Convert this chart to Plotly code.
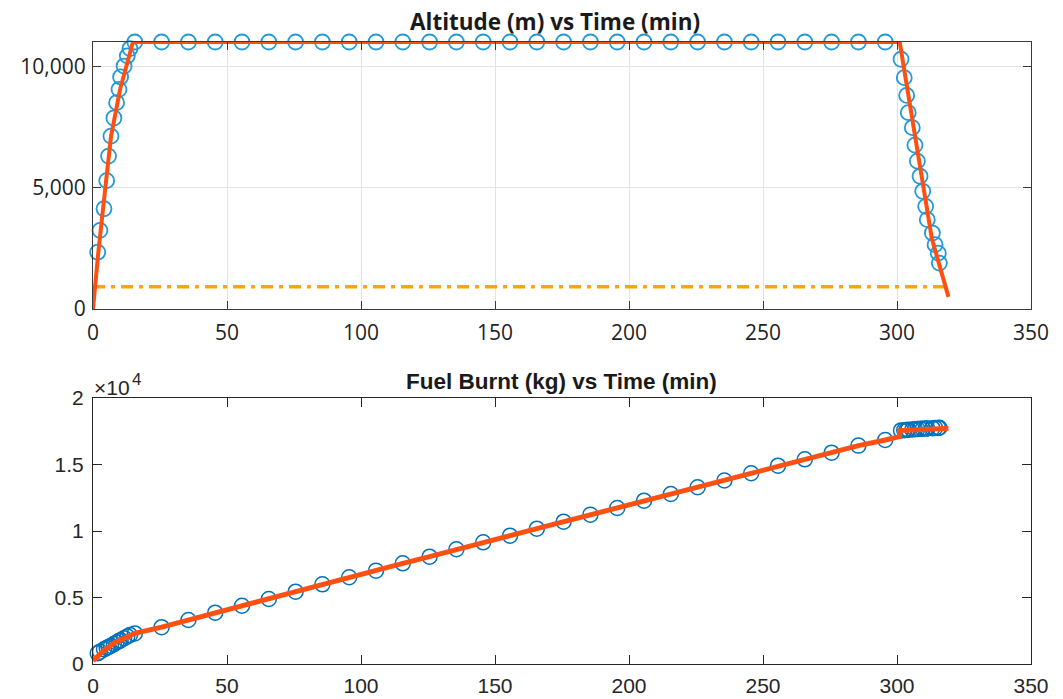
import plotly.graph_objects as go

# ---------------- altitude profile ----------------
alt_climb_t = [1.75, 2.6, 4.1, 5.1, 5.8, 6.7, 7.8, 8.8, 9.7, 10.3, 11.6, 12.8, 13.8]
alt_climb = [2340, 3240, 4130, 5290, 6300, 7120, 7870, 8500, 9050, 9560, 10010, 10430, 10730]

cruise_t = [15.6, 25.6, 35.6, 45.6, 55.6, 65.6, 75.6, 85.6, 95.6, 105.6, 115.6, 125.6,
            135.6, 145.6, 155.6, 165.6, 175.6, 185.6, 195.6, 205.6, 215.6, 225.6,
            235.6, 245.6, 255.6, 265.6, 275.6, 285.6, 295.6]
cruise_alt = [11000, 11000, 11000, 11000, 11000, 11000, 11000, 11000, 11000, 11000,
              11000, 11000, 11000, 11000, 11000, 11000, 11000, 11000, 11000, 11000,
              11000, 11000, 11000, 11000, 11000, 11000, 11000, 11000, 11000]

descent_t = [301.5, 302.7, 303.6, 304.2, 305.7, 306.7, 307.6, 308.6, 309.6, 310.7,
             311.3, 313.2, 314.2, 315.4, 315.8]
descent_alt = [10290, 9530, 8800, 8090, 7470, 6750, 6090, 5470, 4850, 4230,
               3680, 3130, 2650, 2300, 1890]

# modelled altitude profile
alt_model_t = [0, 2, 4.9, 6.7, 10.1, 14.9, 301, 313, 319.2]
alt_model = [0, 2350, 5300, 7100, 9050, 11000, 11000, 2900, 500]

# reference altitude level
ref_t = [0, 319.2]
ref_alt = [914, 914]

# ---------------- fuel burnt ----------------
fuel_climb = [800, 930, 1100, 1200, 1280, 1380, 1500, 1620, 1720, 1790, 1940, 2070, 2180]
fuel_cruise = [2300, 2770, 3310, 3860, 4380, 4890, 5440, 5990, 6520, 7020, 7570, 8070,
               8625, 9150, 9650, 10175, 10700, 11230, 11730, 12280, 12780, 13290,
               13800, 14340, 14910, 15390, 15890, 16420, 16845]
fuel_descent = [17560, 17580, 17600, 17610, 17630, 17650, 17660, 17680, 17690, 17700,
                17710, 17730, 17740, 17750, 17760]

# modelled fuel burn
fuel_model_t = [0, 1.5, 4, 8, 12, 15.6] + cruise_t[1:] + [300.9, 301.0, 319.2]
fuel_model = [250, 550, 1000, 1600, 2000, 2300] + fuel_cruise[1:] + [17100, 17550, 17720]

x_ticks = [0, 50, 100, 150, 200, 250, 300, 350]

BLUE_TOP = "#2199DA"
BLUE_BOT = "#0072BD"
RED = "#FF5012"
ORANGE = "#FFA500"

fig = go.Figure()

# top panel
fig.add_trace(go.Scatter(
    x=alt_climb_t + cruise_t + descent_t, y=alt_climb + cruise_alt + descent_alt,
    mode="markers", cliponaxis=False,
    marker=dict(symbol="circle-open", size=15, color=BLUE_TOP, line=dict(width=1.8)),
    xaxis="x", yaxis="y", showlegend=False))
fig.add_trace(go.Scatter(
    x=ref_t, y=ref_alt, mode="lines",
    line=dict(color=ORANGE, width=3.5, dash="12px,6px,4px,6px"),
    xaxis="x", yaxis="y", showlegend=False))
fig.add_trace(go.Scatter(
    x=alt_model_t, y=alt_model, mode="lines",
    line=dict(color=RED, width=4),
    xaxis="x", yaxis="y", showlegend=False))

# bottom panel
fig.add_trace(go.Scatter(
    x=alt_climb_t + cruise_t + descent_t, y=fuel_climb + fuel_cruise + fuel_descent,
    mode="markers", cliponaxis=False,
    marker=dict(symbol="circle-open", size=15, color=BLUE_BOT, line=dict(width=1.5)),
    xaxis="x2", yaxis="y2", showlegend=False))
fig.add_trace(go.Scatter(
    x=fuel_model_t, y=fuel_model, mode="lines",
    line=dict(color=RED, width=5),
    xaxis="x2", yaxis="y2", showlegend=False))

W, H = 1063, 699
x_dom = [93 / W, 1031 / W]
top_dom = [1 - 309 / H, 1 - 42 / H]
bot_dom = [1 - 664 / H, 1 - 398 / H]

top_font = dict(family="Open Sans", size=21, color="#1F1F1F")
bot_font = dict(family="Liberation Sans", size=21, color="#262626")

fig.update_layout(
    width=W, height=H,
    margin=dict(l=0, r=0, t=0, b=0),
    paper_bgcolor="white", plot_bgcolor="white",
    xaxis=dict(domain=x_dom, anchor="y", range=[0, 350], tickvals=x_ticks,
               automargin=False, ticklabelstandoff=5,
               showgrid=True, gridcolor="#E3E3E3", gridwidth=1, zeroline=False,
               showline=True, linecolor="#3A3A3A", linewidth=1.2, mirror="allticks",
               ticks="inside", ticklen=8, tickcolor="#3A3A3A",
               tickfont=top_font),
    yaxis=dict(domain=top_dom, anchor="x", range=[0, 11000], tickvals=[0, 5000, 10000],
               ticktext=["0", "5,000", "10,000"], automargin=False, ticklabelstandoff=2,
               showgrid=True, gridcolor="#E3E3E3", gridwidth=1, zeroline=False,
               showline=True, linecolor="#3A3A3A", linewidth=1.2, mirror="allticks",
               ticks="inside", ticklen=8, tickcolor="#3A3A3A",
               tickfont=top_font),
    xaxis2=dict(domain=x_dom, anchor="y2", range=[0, 350], tickvals=x_ticks,
                automargin=False, ticklabelstandoff=3,
                showgrid=False, zeroline=False,
                showline=True, linecolor="#262626", linewidth=1.2, mirror="allticks",
                ticks="inside", ticklen=9, tickcolor="#262626",
                tickfont=bot_font),
    yaxis2=dict(domain=bot_dom, anchor="x2", range=[0, 20000],
                tickvals=[0, 5000, 10000, 15000, 20000],
                ticktext=["0", "0.5", "1", "1.5", "2"], automargin=False,
                ticklabelstandoff=4,
                showgrid=False, zeroline=False,
                showline=True, linecolor="#262626", linewidth=1.2, mirror="allticks",
                ticks="inside", ticklen=9, tickcolor="#262626",
                tickfont=bot_font),
    annotations=[
        dict(text="<b>Altitude (m) vs Time (min)</b>", xref="paper", yref="paper",
             x=555 / W, y=1 - 21 / H, xanchor="center", yanchor="middle",
             showarrow=False, font=dict(family="Open Sans", size=22.5, color="#1A1A1A")),
        dict(text="<b>Fuel Burnt (kg) vs Time (min)</b>", xref="paper", yref="paper",
             x=561 / W, y=1 - 381 / H, xanchor="center", yanchor="middle",
             showarrow=False, font=dict(family="Liberation Sans", size=22.5, color="#1A1A1A")),
        # axis exponent label
        dict(text="×10", xref="paper", yref="paper",
             x=92 / W, y=1 - 387 / H, xanchor="left", yanchor="middle",
             showarrow=False, font=dict(family="Liberation Sans", size=21, color="#262626")),
        dict(text="4", xref="paper", yref="paper",
             x=130 / W, y=1 - 379 / H, xanchor="left", yanchor="middle",
             showarrow=False, font=dict(family="Liberation Sans", size=17, color="#262626")),
    ],
)

fig.write_html("out.html")
